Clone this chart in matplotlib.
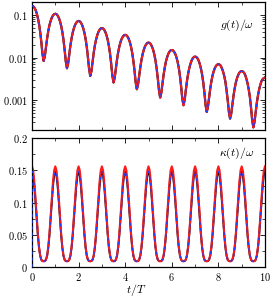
import numpy as np
import matplotlib
matplotlib.use("Agg")
import matplotlib.pyplot as plt
from matplotlib.ticker import FixedLocator, MultipleLocator, FuncFormatter, LogLocator, NullFormatter

plt.rcParams['mathtext.fontset'] = 'cm'
plt.rcParams['font.family'] = ['DejaVu Serif']

# sample times t/T (step 0.05)
t_samples = [round(0.05 * i, 2) for i in range(201)]

# g(t)/omega (log panel)
g_values = [
    0.163, 0.1592, 0.1482, 0.1311, 0.1096, 0.0857, 0.0618, 0.0402, 0.0231, 0.0121,
    0.0083, 0.0107, 0.0176, 0.0284, 0.0421, 0.0572, 0.0722, 0.0859, 0.0967, 0.1036,
    0.106, 0.1035, 0.0964, 0.0853, 0.0713, 0.0558, 0.0403, 0.0263, 0.0152, 0.0081,
    0.0056, 0.0072, 0.0119, 0.0193, 0.0285, 0.0388, 0.0491, 0.0583, 0.0657, 0.0704,
    0.072, 0.0703, 0.0655, 0.0579, 0.0484, 0.0379, 0.0273, 0.0178, 0.0102, 0.0054,
    0.0037, 0.0048, 0.0080, 0.0130, 0.0194, 0.0264, 0.0333, 0.0397, 0.0447, 0.0479,
    0.049, 0.0479, 0.0446, 0.0394, 0.0330, 0.0258, 0.0186, 0.0122, 0.0070, 0.0037,
    0.0026, 0.00337, 0.0056, 0.0091, 0.0134, 0.0183, 0.0232, 0.0275, 0.0310, 0.0332,
    0.034, 0.0332, 0.0309, 0.0274, 0.0229, 0.0179, 0.0129, 0.0084, 0.0049, 0.0026,
    0.0018, 0.0023, 0.0038, 0.0060, 0.0089, 0.0121, 0.0153, 0.0182, 0.0204, 0.0219,
    0.0224, 0.0219, 0.0204, 0.0180, 0.0151, 0.0118, 0.0085, 0.0055, 0.0032, 0.0017,
    0.00115, 0.0015, 0.0025, 0.0040, 0.0059, 0.0081, 0.0102, 0.0122, 0.0137, 0.0147,
    0.015, 0.0147, 0.0136, 0.0121, 0.0101, 0.0079, 0.0057, 0.0037, 0.0021, 0.0011,
    0.00076, 0.0010, 0.0017, 0.0028, 0.0041, 0.0056, 0.0071, 0.0085, 0.0096, 0.0103,
    0.0105, 0.0103, 0.0096, 0.0085, 0.0071, 0.0055, 0.0040, 0.0026, 0.0015, 0.00077,
    0.00053, 0.00069, 0.00115, 0.00186, 0.0028, 0.0038, 0.0048, 0.0057, 0.0064, 0.0068,
    0.0070, 0.0068, 0.0064, 0.0056, 0.0047, 0.0037, 0.0027, 0.0017, 0.0010, 0.00053,
    0.00037, 0.00048, 0.00079, 0.00128, 0.0019, 0.0026, 0.0033, 0.0039, 0.0044, 0.0047,
    0.0048, 0.0047, 0.0044, 0.0039, 0.0032, 0.0025, 0.0018, 0.0012, 0.00067, 0.00034,
    0.00023, 0.00031, 0.00053, 0.00088, 0.0013, 0.0018, 0.0023, 0.0028, 0.0031, 0.0033,
    0.0034,
]

# kappa(t)/omega (linear panel), two overlapping series
kappa_red = [
    0.156, 0.1497, 0.1322, 0.1069, 0.0787, 0.0524, 0.0316, 0.0181, 0.0114, 0.0092,
    0.009, 0.0092, 0.0114, 0.0181, 0.0316, 0.0524, 0.0787, 0.1069, 0.1322, 0.1497,
    0.156, 0.1497, 0.1322, 0.1069, 0.0787, 0.0524, 0.0316, 0.0181, 0.0114, 0.0092,
    0.009, 0.0092, 0.0114, 0.0181, 0.0316, 0.0524, 0.0787, 0.1069, 0.1322, 0.1497,
    0.156, 0.1497, 0.1322, 0.1069, 0.0787, 0.0524, 0.0316, 0.0181, 0.0114, 0.0092,
    0.009, 0.0092, 0.0114, 0.0181, 0.0316, 0.0524, 0.0787, 0.1069, 0.1322, 0.1497,
    0.156, 0.1497, 0.1322, 0.1069, 0.0787, 0.0524, 0.0316, 0.0181, 0.0114, 0.0092,
    0.009, 0.0092, 0.0114, 0.0181, 0.0316, 0.0524, 0.0787, 0.1069, 0.1322, 0.1497,
    0.156, 0.1497, 0.1322, 0.1069, 0.0787, 0.0524, 0.0316, 0.0181, 0.0114, 0.0092,
    0.009, 0.0092, 0.0114, 0.0181, 0.0316, 0.0524, 0.0787, 0.1069, 0.1322, 0.1497,
    0.156, 0.1497, 0.1322, 0.1069, 0.0787, 0.0524, 0.0316, 0.0181, 0.0114, 0.0092,
    0.009, 0.0092, 0.0114, 0.0181, 0.0316, 0.0524, 0.0787, 0.1069, 0.1322, 0.1497,
    0.156, 0.1497, 0.1322, 0.1069, 0.0787, 0.0524, 0.0316, 0.0181, 0.0114, 0.0092,
    0.009, 0.0092, 0.0114, 0.0181, 0.0316, 0.0524, 0.0787, 0.1069, 0.1322, 0.1497,
    0.156, 0.1497, 0.1322, 0.1069, 0.0787, 0.0524, 0.0316, 0.0181, 0.0114, 0.0092,
    0.009, 0.0092, 0.0114, 0.0181, 0.0316, 0.0524, 0.0787, 0.1069, 0.1322, 0.1497,
    0.156, 0.1497, 0.1322, 0.1069, 0.0787, 0.0524, 0.0316, 0.0181, 0.0114, 0.0092,
    0.009, 0.0092, 0.0114, 0.0181, 0.0316, 0.0524, 0.0787, 0.1069, 0.1322, 0.1497,
    0.156, 0.1497, 0.1322, 0.1069, 0.0787, 0.0524, 0.0316, 0.0181, 0.0114, 0.0092,
    0.009, 0.0092, 0.0114, 0.0181, 0.0316, 0.0524, 0.0787, 0.1069, 0.1322, 0.1497,
    0.156,
]

kappa_blue = [
    0.148, 0.1420, 0.1255, 0.1016, 0.0749, 0.0500, 0.0304, 0.0176, 0.0112, 0.0092,
    0.009, 0.0092, 0.0112, 0.0176, 0.0304, 0.0500, 0.0749, 0.1016, 0.1255, 0.1420,
    0.148, 0.1420, 0.1255, 0.1016, 0.0749, 0.0500, 0.0304, 0.0176, 0.0112, 0.0092,
    0.009, 0.0092, 0.0112, 0.0176, 0.0304, 0.0500, 0.0749, 0.1016, 0.1255, 0.1420,
    0.148, 0.1420, 0.1255, 0.1016, 0.0749, 0.0500, 0.0304, 0.0176, 0.0112, 0.0092,
    0.009, 0.0092, 0.0112, 0.0176, 0.0304, 0.0500, 0.0749, 0.1016, 0.1255, 0.1420,
    0.148, 0.1420, 0.1255, 0.1016, 0.0749, 0.0500, 0.0304, 0.0176, 0.0112, 0.0092,
    0.009, 0.0092, 0.0112, 0.0176, 0.0304, 0.0500, 0.0749, 0.1016, 0.1255, 0.1420,
    0.148, 0.1420, 0.1255, 0.1016, 0.0749, 0.0500, 0.0304, 0.0176, 0.0112, 0.0092,
    0.009, 0.0092, 0.0112, 0.0176, 0.0304, 0.0500, 0.0749, 0.1016, 0.1255, 0.1420,
    0.148, 0.1420, 0.1255, 0.1016, 0.0749, 0.0500, 0.0304, 0.0176, 0.0112, 0.0092,
    0.009, 0.0092, 0.0112, 0.0176, 0.0304, 0.0500, 0.0749, 0.1016, 0.1255, 0.1420,
    0.148, 0.1420, 0.1255, 0.1016, 0.0749, 0.0500, 0.0304, 0.0176, 0.0112, 0.0092,
    0.009, 0.0092, 0.0112, 0.0176, 0.0304, 0.0500, 0.0749, 0.1016, 0.1255, 0.1420,
    0.148, 0.1420, 0.1255, 0.1016, 0.0749, 0.0500, 0.0304, 0.0176, 0.0112, 0.0092,
    0.009, 0.0092, 0.0112, 0.0176, 0.0304, 0.0500, 0.0749, 0.1016, 0.1255, 0.1420,
    0.148, 0.1420, 0.1255, 0.1016, 0.0749, 0.0500, 0.0304, 0.0176, 0.0112, 0.0092,
    0.009, 0.0092, 0.0112, 0.0176, 0.0304, 0.0500, 0.0749, 0.1016, 0.1255, 0.1420,
    0.148, 0.1420, 0.1255, 0.1016, 0.0749, 0.0500, 0.0304, 0.0176, 0.0112, 0.0092,
    0.009, 0.0092, 0.0112, 0.0176, 0.0304, 0.0500, 0.0749, 0.1016, 0.1255, 0.1420,
    0.148,
]
kappa_blue_start = 0.0  # blue curve starts at zero at t = 0

g_ticks = [0.001, 0.01, 0.1]
g_ticklabels = ['0.001', '0.01', '0.1']
kappa_ticks = [0, 0.05, 0.1, 0.15, 0.2]
kappa_ticklabels = ['0', '0.05', '0.1', '0.15', '0.2']
x_ticks = [0, 2, 4, 6, 8, 10]
x_ticklabels = ['0', '2', '4', '6', '8', '10']

W, H = 272, 299
fig = plt.figure(figsize=(W / 100, H / 100), dpi=100)
L, R = 32 / W, 265 / W
ax1 = fig.add_axes([L, 1 - 130 / H, R - L, 128 / H])
ax2 = fig.add_axes([L, 1 - 267 / H, R - L, 129 / H])

FS = 7.5

def style(ax):
    ax.tick_params(which='both', direction='in', top=True, right=True, labelsize=FS, pad=3)
    ax.tick_params(which='major', length=3.5, width=0.6)
    ax.tick_params(which='minor', length=2, width=0.5)
    for s in ax.spines.values():
        s.set_linewidth(0.9)

# top panel
ax1.plot(t_samples, g_values, color='black', lw=1.6, zorder=1)
ax1.plot(t_samples, g_values, color='#ff1a1a', lw=1.5, zorder=2)
ax1.plot(t_samples, g_values, color='#1f3fff', lw=0.9, ls=(0, (2.5, 2.5)), zorder=3)
ax1.set_yscale('log')
ax1.set_xlim(0, 10)
ax1.set_ylim(2e-4, 0.2)
ax1.yaxis.set_major_locator(FixedLocator(g_ticks))
ax1.yaxis.set_major_formatter(FuncFormatter(lambda v, p: '$' + g_ticklabels[g_ticks.index(min(g_ticks, key=lambda a: abs(a - v)))] + '$'))
ax1.yaxis.set_minor_locator(LogLocator(base=10, subs=np.arange(2, 10)))
ax1.yaxis.set_minor_formatter(NullFormatter())
ax1.xaxis.set_major_locator(FixedLocator(x_ticks))
ax1.xaxis.set_minor_locator(MultipleLocator(1))
ax1.set_xticklabels([])
style(ax1)
ax1.text(0.955, 0.82, r'$g(t)/\omega$', transform=ax1.transAxes, ha='right', va='center', fontsize=8.5)

# bottom panel
ax2.plot(t_samples, kappa_blue, color='black', lw=1.4, zorder=1)
ax2.plot(t_samples, kappa_red, color='#ff1a1a', lw=1.5, zorder=2)
ax2.plot([t_samples[0]] + t_samples, [kappa_blue_start] + kappa_blue, color='#1f3fff', lw=0.9,
         ls=(0, (2.5, 2.5)), zorder=3)
ax2.set_xlim(0, 10)
ax2.set_ylim(0, 0.2)
ax2.yaxis.set_major_locator(FixedLocator(kappa_ticks))
ax2.set_yticklabels(['$' + s + '$' for s in kappa_ticklabels])
ax2.yaxis.set_minor_locator(MultipleLocator(0.025))
ax2.xaxis.set_major_locator(FixedLocator(x_ticks))
ax2.set_xticklabels(['$' + s + '$' for s in x_ticklabels])
ax2.xaxis.set_minor_locator(MultipleLocator(1))
style(ax2)
ax2.text(0.955, 0.884, r'$\kappa(t)/\omega$', transform=ax2.transAxes, ha='right', va='center', fontsize=8.5)
ax2.text(0.5, 1 - 290 / H, r'$t/T$', transform=fig.transFigure, ha='center', va='center', fontsize=8.5)

fig.savefig('out.png', dpi=100)
